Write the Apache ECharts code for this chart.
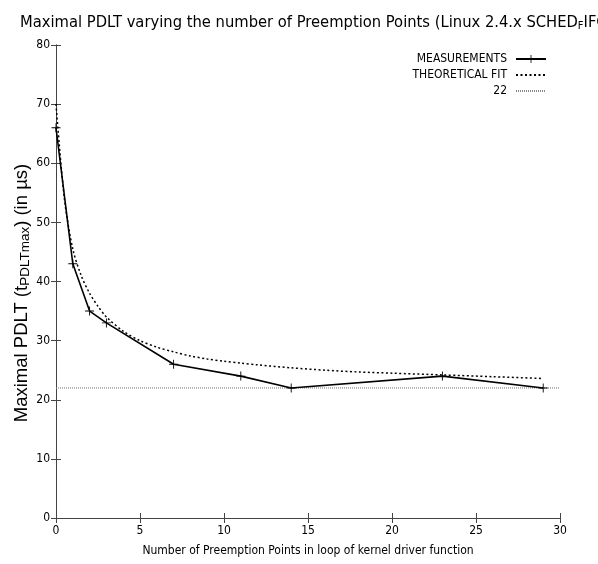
<!DOCTYPE html>
<html>
<head>
<meta charset="utf-8">
<script src="https://cdn.jsdelivr.net/npm/echarts@6/dist/echarts.min.js"></script>
<style>html,body{margin:0;padding:0;background:#fff;}#c{width:598px;height:564px;}</style>
</head>
<body>
<div id="c"></div>
<script>
// ---- data ----
const measX = [0, 1, 2, 3, 7, 11, 14, 23, 29];
const measY = [66, 43, 35, 33, 26, 24, 22, 24, 22];
const fitX = [0, 0.5, 1, 1.5, 2, 2.5, 3, 4, 5, 6, 7, 8, 9, 10, 11, 12, 14, 16, 18, 20, 23, 26, 29];
const fitY = [70, 54, 45.5, 41, 38, 35.8, 34, 31.6, 30, 28.9, 28.1, 27.4, 26.9, 26.5, 26.2, 25.9, 25.4, 25, 24.7, 24.5, 24.2, 23.9, 23.6];
const refX = [0, 30];
const refY = [22, 22];
const seriesNames = ['MEASUREMENTS', 'THEORETICAL FIT', '22'];
const xTicks = [0, 5, 10, 15, 20, 25, 30];
const yTicks = [0, 10, 20, 30, 40, 50, 60, 70, 80];

const zip = (a, b) => a.map((v, i) => [v, b[i]]);
const NARROW = "'Liberation Sans Narrow', 'DejaVu Sans Condensed', sans-serif";
const REG = "'Liberation Sans', Arial, sans-serif";
const FRAME = '#444';
const CLEAR = 'rgba(0,0,0,0)';

const chart = echarts.init(document.getElementById('c'), null, {renderer: 'canvas'});
const plusPath = 'path://M4.5,0h1v4.5h4.5v1h-4.5v4.5h-1v-4.5h-4.5v-1h4.5z';

const axisCommon = {
  type: 'value', min: 0,
  axisLine: {show: true, lineStyle: {color: FRAME, width: 1}},
  axisTick: {show: true, inside: true, length: 5, lineStyle: {color: FRAME}},
  splitLine: {show: false}
};

chart.setOption({
  animation: false,
  backgroundColor: '#fff',
  title: {
    left: 15, top: 8,
    text: '{a|Maximal PDLT varying the number of Preemption Points (Linux 2.4.x SCHED}{s|F}{a|IFO)}',
    textStyle: {
      fontWeight: 'normal',
      rich: {
        a: {fontFamily: NARROW, fontSize: 16.4, fontWeight: 'normal', color: '#000'},
        s: {fontFamily: NARROW, fontSize: 11, fontWeight: 'normal', color: '#000', verticalAlign: 'bottom', padding: [8, 0, 0, 0]}
      }
    }
  },
  grid: {left: 56, right: 38, top: 45, bottom: 46, containLabel: false},
  legend: {
    orient: 'vertical', right: 46, top: 48, align: 'right',
    itemWidth: 30, itemHeight: 10, itemGap: 4,
    data: seriesNames,
    textStyle: {fontFamily: NARROW, fontSize: 12, color: '#000', padding: [0, 4, 0, 0]}
  },
  xAxis: [
    Object.assign({}, axisCommon, {
      max: 30, interval: 5, position: 'bottom',
      axisLabel: {margin: 7, fontFamily: NARROW, fontSize: 12, color: '#000',
        formatter: v => xTicks.includes(v) ? String(v) : ''},
      name: 'Number of Preemption Points in loop of kernel driver function',
      nameLocation: 'middle', nameGap: 27,
      nameTextStyle: {fontFamily: NARROW, fontSize: 12, color: '#000', verticalAlign: 'top'}
    }),
    Object.assign({}, axisCommon, {
      max: 30, interval: 5, position: 'top', axisLabel: {show: false}
    })
  ],
  yAxis: [
    Object.assign({}, axisCommon, {
      max: 80, interval: 10, position: 'left',
      axisLabel: {margin: 6, fontFamily: NARROW, fontSize: 12, color: '#000',
        formatter: v => yTicks.includes(v) ? String(v) : ''}
    }),
    Object.assign({}, axisCommon, {
      max: 80, interval: 10, position: 'right', axisLabel: {show: false}
    })
  ],
  graphic: [{
    type: 'text',
    x: 22, y: 293, rotation: Math.PI / 2,
    style: {
      text: '{a|Maximal PDLT (t}{s|PDLTmax}{a|) (in µs)}',
      align: 'center', verticalAlign: 'middle',
      rich: {
        a: {fontFamily: REG, fontSize: 18.5, fill: '#000'},
        s: {fontFamily: REG, fontSize: 13.5, fill: '#000', verticalAlign: 'bottom', padding: [7, 0, 0, 0]}
      }
    }
  }],
  series: [
    {
      name: seriesNames[0], type: 'line', data: zip(measX, measY),
      xAxisIndex: 0, yAxisIndex: 0, z: 5,
      lineStyle: {color: '#000', width: 1.6},
      itemStyle: {color: '#000'},
      symbol: plusPath, symbolSize: 9, showAllSymbol: true
    },
    {
      name: seriesNames[1], type: 'line', data: zip(fitX, fitY),
      xAxisIndex: 0, yAxisIndex: 0, smooth: 0.3, z: 4,
      lineStyle: {color: '#000', width: 1.5, type: [2, 2.5]},
      itemStyle: {color: CLEAR, borderColor: CLEAR, borderWidth: 0},
      symbol: 'circle', showSymbol: false
    },
    {
      name: seriesNames[2], type: 'line', data: zip(refX, refY),
      xAxisIndex: 0, yAxisIndex: 0, z: 3,
      lineStyle: {color: '#888', width: 1.2, type: [1, 1]},
      itemStyle: {color: CLEAR, borderColor: CLEAR, borderWidth: 0},
      symbol: 'circle', showSymbol: false
    }
  ]
});
</script>
</body>
</html>
